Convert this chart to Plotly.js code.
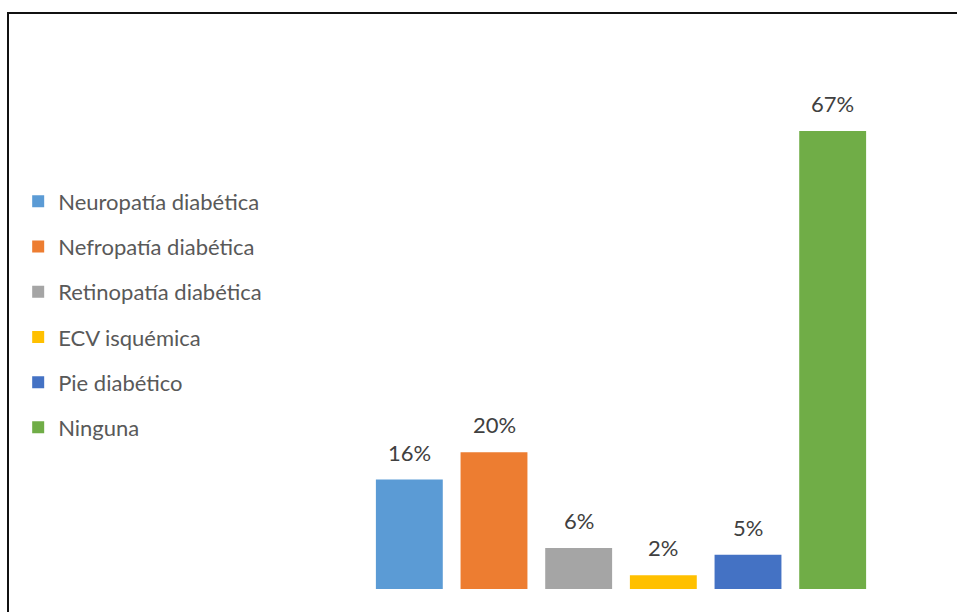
<!DOCTYPE html>
<html>
<head>
<meta charset="utf-8">
<script src="https://cdn.plot.ly/plotly-3.0.1.min.js"></script>
<style>
html,body{margin:0;padding:0;background:#fff;}
#wrap{position:relative;width:957px;height:612px;overflow:hidden;}
#chart{position:absolute;left:0;top:0;width:957px;height:612px;}
#frame{position:absolute;left:7px;top:12px;width:960px;height:620px;border-top:2px solid #111;border-left:2px solid #111;pointer-events:none;}
</style>
</head>
<body>
<div id="wrap"><div id="chart"></div><div id="frame"></div></div>
<script>
const categories = ["Neuropatía diabética","Nefropatía diabética","Retinopatía diabética","ECV isquémica","Pie diabético","Ninguna"];
const values = [0.16, 0.20, 0.06, 0.02, 0.05, 0.67];
const labels = ["16%","20%","6%","2%","5%","67%"];
const colors = ["#5B9BD5","#ED7D31","#A5A5A5","#FFC000","#4472C4","#70AD47"];

const FONT = "Lato, 'Open Sans', sans-serif";
const traces = categories.map((c,i)=>({
  type:"bar", name:c, x:[c], y:[values[i]],
  marker:{color:colors[i]}, width:0.79, legendgroup:"g"+i,
  hoverinfo:"skip"
}));
const annotations = categories.map((c,i)=>({
  x:c, y:values[i], xref:"x", yref:"y", text:labels[i], showarrow:false,
  yanchor:"bottom", yshift:12, font:{family:FONT,size:22,color:"#404040"}
}));
const layout = {
  width:957, height:612,
  margin:{l:367, r:82, t:42, b:23},
  paper_bgcolor:"#fff", plot_bgcolor:"#fff",
  barmode:"overlay",
  showlegend:true,
  legend:{xref:"container", yref:"container", x:0.019, y:0.705, xanchor:"left", yanchor:"top",
    font:{family:FONT,size:22,color:"#595959"}, tracegroupgap:13.6, traceorder:"grouped", bgcolor:"rgba(0,0,0,0)"},
  xaxis:{type:"category", categoryarray:categories, visible:false, range:[-0.5,5.5]},
  yaxis:{range:[0,0.8], visible:false},
  annotations:annotations,
  font:{family:FONT}
};
Plotly.newPlot("chart", traces, layout, {displayModeBar:false, staticPlot:true});
</script>
</body>
</html>
